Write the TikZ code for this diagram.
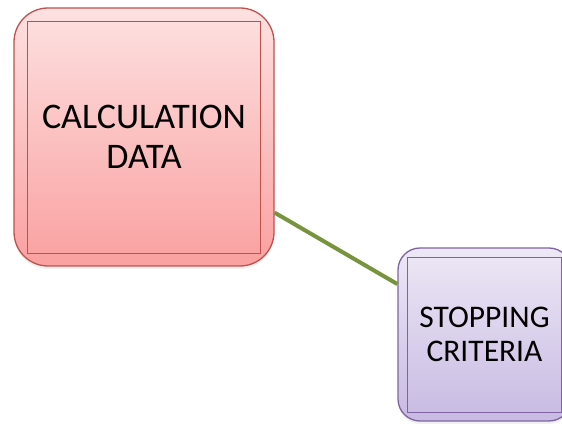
\documentclass[tikz,border=0pt]{standalone}
\usepackage{fontspec}
\setmainfont{Carlito}
\usetikzlibrary{shadows}
\definecolor{calcline}{RGB}{192,80,77}
\definecolor{calctop}{RGB}{253,225,225}
\definecolor{calcbot}{RGB}{250,160,160}
\definecolor{stopline}{RGB}{128,100,162}
\definecolor{stoptop}{RGB}{237,232,246}
\definecolor{stopbot}{RGB}{200,186,226}
\definecolor{linkgreen}{RGB}{119,147,60}

\tikzset{
  framebox/.style={draw, line width=1.3pt, align=center, inner sep=0pt,
    drop shadow={opacity=0.12, shadow xshift=0pt, shadow yshift=-3pt}},
  inframe/.style={line width=1.3pt}
}

\begin{document}
\begin{tikzpicture}[x=1pt,y=1pt,line cap=round]
\useasboundingbox (0,0) rectangle (562,423);
\clip (0,0) rectangle (562,423);
\node[framebox, draw=calcline, top color=calctop, bottom color=calcbot,
  rounded corners=34pt, minimum width=260pt, minimum height=258pt,
  font=\fontsize{36}{40}\selectfont] (calc) at (144,286) {CALCULATION\\DATA};
\draw[inframe, calcline] ([shift={(14,-14)}]calc.north west) rectangle ([shift={(-14,13)}]calc.south east);
\node[framebox, draw=stopline, top color=stoptop, bottom color=stopbot,
  rounded corners=22pt, minimum width=173pt, minimum height=173pt,
  font=\fontsize{31.5}{34}\selectfont] (stop) at (484.5,88.5) {STOPPING\\CRITERIA};
\draw[inframe, stopline] ([shift={(10,-10)}]stop.north west) rectangle ([shift={(-10,9)}]stop.south east);
\draw[linkgreen, line width=4pt, line cap=butt] (calc) -- (stop);
\end{tikzpicture}
\end{document}
